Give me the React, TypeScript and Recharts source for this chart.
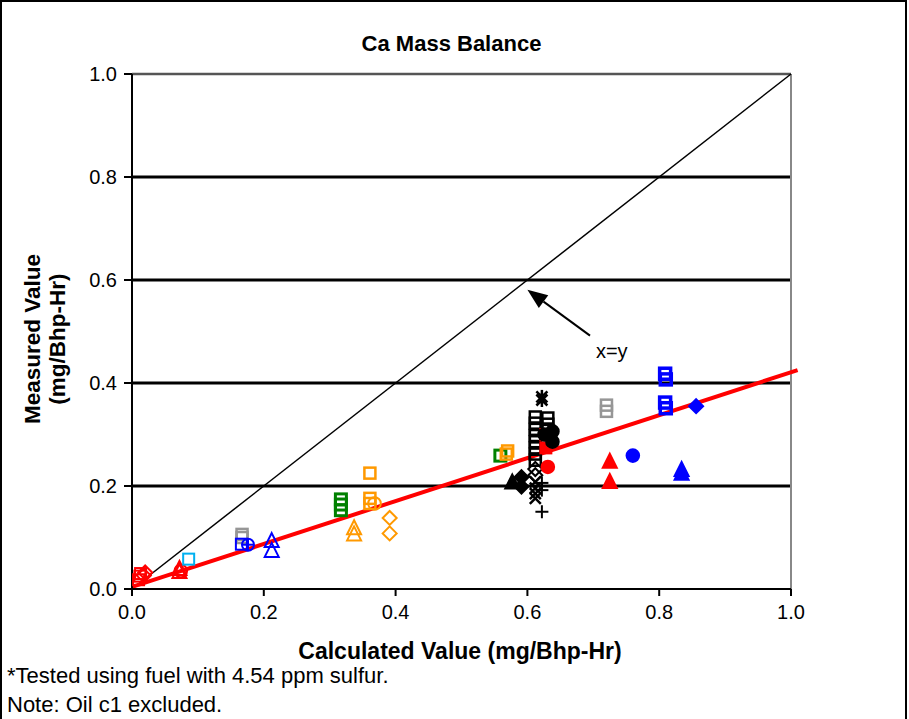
import React from 'react';
import { ScatterChart, Scatter, XAxis, YAxis, CartesianGrid, ReferenceLine, ReferenceDot } from 'recharts';

type Pt = { x: number; y: number };
const pts = (rows: number[][]): Pt[] => rows.map(([x, y]) => ({ x, y }));

const FONT = '"Liberation Sans", Arial, Helvetica, sans-serif';

// axis ticks
const xTicks = [0, 0.2, 0.4, 0.6, 0.8, 1.0];
const yTicks = [0, 0.2, 0.4, 0.6, 0.8, 1.0];

// reference lines (x=y and the fitted trend)
const diagonal = [{ x: 0, y: 0 }, { x: 1, y: 1 }];
const trend = [{ x: 0, y: 0.004 }, { x: 1.01, y: 0.425 }];
const arrow = [{ x: 0.695, y: 0.492 }, { x: 0.6, y: 0.581 }];

// measured vs calculated, one list per marker style
const redOpenSquare = [[0.01, 0.018], [0.012, 0.025], [0.013, 0.03]];
const redOpenDiamond = [[0.02, 0.032], [0.018, 0.026]];
const redOpenTriangle = [[0.072, 0.039], [0.072, 0.033]];
const redOpenCircle = [[0.074, 0.035]];
const cyanOpenSquare = [[0.086, 0.058]];
const grayOpenSquare = [[0.167, 0.1], [0.167, 0.106], [0.72, 0.345], [0.72, 0.357]];
const blueOpenSquare = [[0.166, 0.087]];
const blueCirclePlus = [[0.176, 0.086]];
const blueOpenTriangle = [[0.212, 0.093], [0.212, 0.074]];
const greenOpenSquare = [[0.317, 0.174], [0.317, 0.164], [0.317, 0.153], [0.559, 0.259]];
const orangeOpenSquare = [[0.361, 0.225], [0.361, 0.176], [0.361, 0.166], [0.568, 0.262], [0.57, 0.268]];
const orangeOpenCircle = [[0.368, 0.166]];
const orangeOpenTriangle = [[0.337, 0.118], [0.337, 0.106]];
const orangeOpenDiamond = [[0.391, 0.138], [0.391, 0.108]];
const blackTriangle = [[0.577, 0.207]];
const blackDiamond = [[0.591, 0.217], [0.591, 0.199]];
const blackOpenSquare = [
  [0.612, 0.334], [0.612, 0.322], [0.612, 0.31], [0.612, 0.298], [0.612, 0.286],
  [0.612, 0.274], [0.612, 0.262], [0.612, 0.25], [0.631, 0.332], [0.631, 0.32], [0.631, 0.308],
];
const blackOpenDiamond = [[0.612, 0.233], [0.612, 0.221]];
const blackCross = [[0.612, 0.208], [0.612, 0.196], [0.612, 0.185], [0.612, 0.176]];
const blackStar = [[0.622, 0.373], [0.622, 0.367]];
const blackPlus = [[0.622, 0.206], [0.622, 0.192], [0.622, 0.15]];
const blackCircle = [[0.626, 0.3], [0.638, 0.306], [0.638, 0.286]];
const redSquare = [[0.628, 0.3], [0.628, 0.274]];
const redCircle = [[0.631, 0.237]];
const redTriangle = [[0.725, 0.247], [0.725, 0.208]];
const blueCircle = [[0.76, 0.259]];
const blueThickSquare = [[0.809, 0.418], [0.81, 0.407], [0.809, 0.362], [0.81, 0.351]];
const blueDiamond = [[0.856, 0.355]];
const blueTriangle = [[0.834, 0.231], [0.834, 0.224]];

type Sym = 'square' | 'diamond' | 'triangle' | 'circle' | 'x' | 'star' | 'plus' | 'circlePlus';

function marker(sym: Sym, color: string, filled: boolean, sw = 2) {
  return (p: any) => {
    const { cx, cy } = p;
    if (cx == null || cy == null) return <g />;
    const fill = filled ? color : 'none';
    switch (sym) {
      case 'square':
        return <rect x={cx - 5.5} y={cy - 5.5} width={11} height={11} fill={fill} stroke={color} strokeWidth={sw} />;
      case 'diamond':
        return <polygon points={`${cx},${cy - 7} ${cx + 7},${cy} ${cx},${cy + 7} ${cx - 7},${cy}`} fill={fill} stroke={color} strokeWidth={sw} />;
      case 'triangle':
        return <polygon points={`${cx},${cy - 8} ${cx + 7},${cy + 6} ${cx - 7},${cy + 6}`} fill={fill} stroke={color} strokeWidth={sw} />;
      case 'circle':
        return <circle cx={cx} cy={cy} r={6.3} fill={fill} stroke={color} strokeWidth={sw} />;
      case 'circlePlus':
        return (
          <g stroke={color} strokeWidth={sw} fill="none">
            <circle cx={cx} cy={cy} r={6} />
            <line x1={cx - 6} y1={cy} x2={cx + 6} y2={cy} />
            <line x1={cx} y1={cy - 6} x2={cx} y2={cy + 6} />
          </g>
        );
      case 'x':
        return (
          <g stroke={color} strokeWidth={sw}>
            <line x1={cx - 5.5} y1={cy - 5.5} x2={cx + 5.5} y2={cy + 5.5} />
            <line x1={cx - 5.5} y1={cy + 5.5} x2={cx + 5.5} y2={cy - 5.5} />
          </g>
        );
      case 'star':
        return (
          <g stroke={color} strokeWidth={sw}>
            <line x1={cx - 5.5} y1={cy - 5.5} x2={cx + 5.5} y2={cy + 5.5} />
            <line x1={cx - 5.5} y1={cy + 5.5} x2={cx + 5.5} y2={cy - 5.5} />
            <line x1={cx} y1={cy - 7} x2={cx} y2={cy + 7} />
          </g>
        );
      case 'plus':
        return (
          <g stroke={color} strokeWidth={sw}>
            <line x1={cx - 6.5} y1={cy} x2={cx + 6.5} y2={cy} />
            <line x1={cx} y1={cy - 6.5} x2={cx} y2={cy + 6.5} />
          </g>
        );
    }
    return <g />;
  };
}

const series: { rows: number[][]; sym: Sym; color: string; filled: boolean; sw?: number }[] = [
  { rows: redOpenSquare, sym: 'square', color: '#ff0000', filled: false },
  { rows: redOpenDiamond, sym: 'diamond', color: '#ff0000', filled: false },
  { rows: redOpenTriangle, sym: 'triangle', color: '#ff0000', filled: false },
  { rows: redOpenCircle, sym: 'circle', color: '#ff0000', filled: false },
  { rows: cyanOpenSquare, sym: 'square', color: '#00b0f0', filled: false },
  { rows: grayOpenSquare, sym: 'square', color: '#969696', filled: false, sw: 2.5 },
  { rows: blueOpenSquare, sym: 'square', color: '#0000ff', filled: false },
  { rows: blueCirclePlus, sym: 'circlePlus', color: '#0000ff', filled: false },
  { rows: blueOpenTriangle, sym: 'triangle', color: '#0000ff', filled: false },
  { rows: greenOpenSquare, sym: 'square', color: '#008000', filled: false, sw: 3 },
  { rows: orangeOpenSquare, sym: 'square', color: '#ff9900', filled: false, sw: 2.5 },
  { rows: orangeOpenCircle, sym: 'circle', color: '#ff9900', filled: false },
  { rows: orangeOpenTriangle, sym: 'triangle', color: '#ff9900', filled: false },
  { rows: orangeOpenDiamond, sym: 'diamond', color: '#ff9900', filled: false },
  { rows: blackTriangle, sym: 'triangle', color: '#000000', filled: true },
  { rows: blackDiamond, sym: 'diamond', color: '#000000', filled: true },
  { rows: blackOpenSquare, sym: 'square', color: '#000000', filled: false, sw: 2.5 },
  { rows: blackOpenDiamond, sym: 'diamond', color: '#000000', filled: false },
  { rows: blackCross, sym: 'x', color: '#000000', filled: false, sw: 2.5 },
  { rows: blackStar, sym: 'star', color: '#000000', filled: false, sw: 2.5 },
  { rows: blackPlus, sym: 'plus', color: '#000000', filled: false },
  { rows: redSquare, sym: 'square', color: '#ff0000', filled: true },
  { rows: blackCircle, sym: 'circle', color: '#000000', filled: true },
  { rows: redCircle, sym: 'circle', color: '#ff0000', filled: true },
  { rows: redTriangle, sym: 'triangle', color: '#ff0000', filled: true },
  { rows: blueCircle, sym: 'circle', color: '#0000ff', filled: true },
  { rows: blueThickSquare, sym: 'square', color: '#0000ff', filled: false, sw: 3.5 },
  { rows: blueDiamond, sym: 'diamond', color: '#0000ff', filled: true },
  { rows: blueTriangle, sym: 'triangle', color: '#0000ff', filled: true },
];

const ArrowShape = (p: any) => {
  const { x1, y1, x2, y2 } = p;
  if (x1 == null) return <g />;
  const ang = Math.atan2(y2 - y1, x2 - x1);
  const len = 20;
  const half = 8;
  const bx = x2 - len * Math.cos(ang);
  const by = y2 - len * Math.sin(ang);
  const px = -Math.sin(ang) * half;
  const py = Math.cos(ang) * half;
  return (
    <g>
      <line x1={x1} y1={y1} x2={bx} y2={by} stroke="#000" strokeWidth={2} />
      <polygon points={`${x2},${y2} ${bx + px},${by + py} ${bx - px},${by - py}`} fill="#000" />
    </g>
  );
};

const tickStyle = { fill: '#000', fontSize: 20, fontFamily: FONT };

export default function App() {
  return (
    <div style={{ position: 'absolute', left: 0, top: 0, width: 909, height: 719, background: '#fff', fontFamily: FONT, overflow: 'hidden' }}>
      <div style={{ position: 'absolute', left: 0, top: 0, width: 903, height: 730, borderLeft: '2px solid #000', borderTop: '2px solid #000', borderRight: '2px solid #000' }} />
      <div style={{ position: 'absolute', left: 122, width: 659, top: 30, textAlign: 'center', fontSize: 22, fontWeight: 'bold', lineHeight: '27px' }}>
        Ca Mass Balance
      </div>
      <div style={{ position: 'absolute', left: 0, top: 0 }}>
        <ScatterChart width={909} height={719} margin={{ top: 74, right: 118, bottom: 90, left: 62 }}>
          <CartesianGrid horizontal vertical={false} stroke="#000" strokeWidth={3} horizontalValues={[0.2, 0.4, 0.6, 0.8]} />
          <XAxis
            type="number"
            dataKey="x"
            domain={[0, 1]}
            ticks={xTicks}
            tickFormatter={(v: number) => v.toFixed(1)}
            height={40}
            tickSize={7}
            tickMargin={9}
            stroke="#000"
            strokeWidth={2}
            tick={tickStyle}
            allowDataOverflow
          />
          <YAxis
            type="number"
            dataKey="y"
            domain={[0, 1]}
            ticks={yTicks}
            tickFormatter={(v: number) => v.toFixed(1)}
            width={70}
            tickSize={8}
            tickMargin={7}
            stroke="#000"
            strokeWidth={2}
            tick={tickStyle}
            allowDataOverflow
          />
          <ReferenceLine y={1} stroke="#555" strokeWidth={2.5} />
          <ReferenceLine x={1} stroke="#888" strokeWidth={2} />
          <ReferenceLine segment={diagonal} stroke="#000" strokeWidth={1.5} ifOverflow="visible" />
          {series.map((s, i) => (
            <Scatter
              key={i}
              data={pts(s.rows)}
              shape={marker(s.sym, s.color, s.filled, s.sw ?? 2)}
              isAnimationActive={false}
            />
          ))}
          <ReferenceLine segment={trend} stroke="#ff0000" strokeWidth={4} ifOverflow="visible" />
          <ReferenceLine segment={arrow} shape={ArrowShape} ifOverflow="visible" />
          <ReferenceDot x={0.728} y={0.462} r={0} fill="none" stroke="none" ifOverflow="visible"
            label={{ value: 'x=y', position: 'center', fill: '#000', fontSize: 20, fontFamily: FONT }} />
        </ScatterChart>
      </div>
      <div style={{ position: 'absolute', left: 110, width: 700, top: 637, textAlign: 'center', fontSize: 23, fontWeight: 'bold', lineHeight: '28px' }}>
        Calculated Value (mg/Bhp-Hr)
      </div>
      <div style={{ position: 'absolute', left: 45, top: 339, width: 300, transform: 'translate(-50%, -50%) rotate(-90deg)', textAlign: 'center', fontSize: 22.5, fontWeight: 'bold', lineHeight: '25px' }}>
        Measured Value
        <br />
        (mg/Bhp-Hr)
      </div>
      <div style={{ position: 'absolute', left: 7, top: 663, fontSize: 22, lineHeight: '26px' }}>
        *Tested using fuel with 4.54 ppm sulfur.
      </div>
      <div style={{ position: 'absolute', left: 7, top: 692, fontSize: 22, lineHeight: '26px' }}>
        Note: Oil c1 excluded.
      </div>
    </div>
  );
}
